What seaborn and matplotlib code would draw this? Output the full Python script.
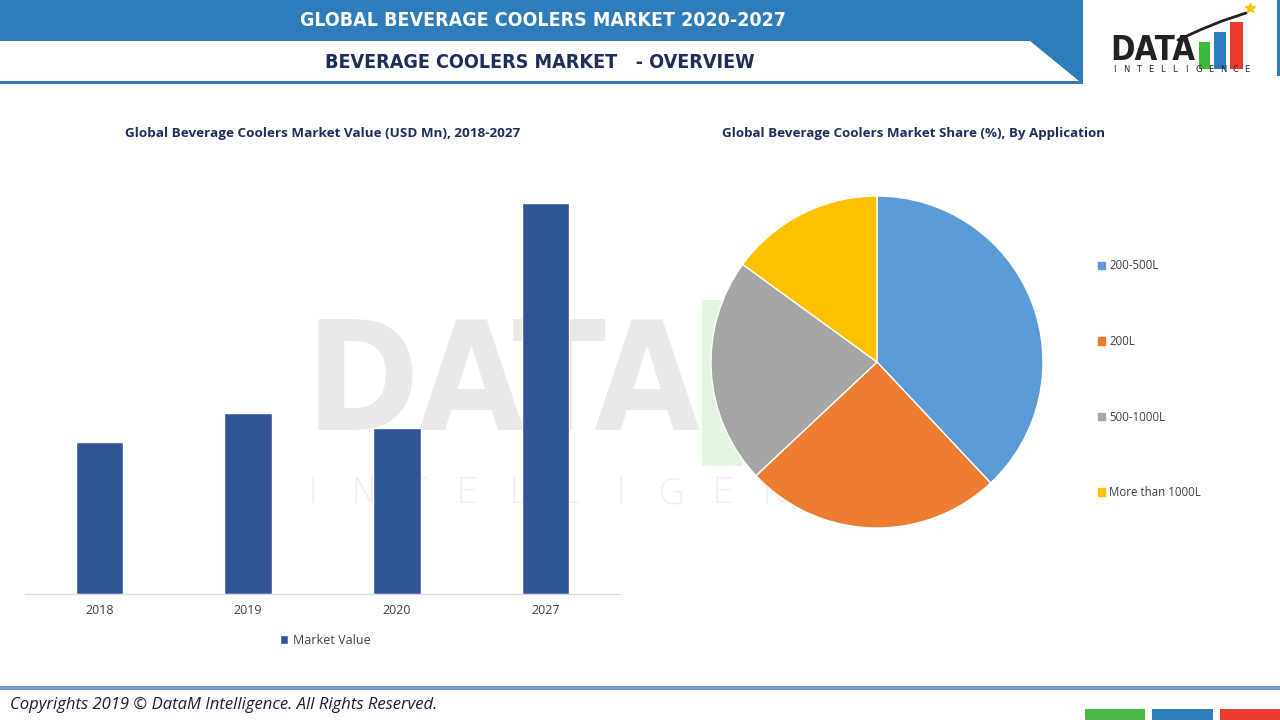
import matplotlib
matplotlib.use("Agg")
import matplotlib.pyplot as plt
import seaborn as sns
import pandas as pd
from matplotlib.patches import Rectangle, Polygon, Patch

# data
years = ["2018", "2019", "2020", "2027"]
market_value = [152, 181, 166, 391]

segments = ["200-500L", "200L", "500-1000L", "More than 1000L"]
share = [38, 25, 22, 15]
pie_colors = ["#5B9BD5", "#ED7D31", "#A5A5A5", "#FFC000"]

bar_color = "#2F5597"
header_blue = "#2E7CB9"
navy = "#1F2D5A"
body_font = ["Open Sans", "DejaVu Sans"]

sns.set_style("white")
plt.rcParams["font.family"] = ["DejaVu Sans"]

fig = plt.figure(figsize=(12.8, 7.2), dpi=100)
renderer = fig.canvas.get_renderer()


def fit_width(t, target_w):
    # shrink/grow a text so that it spans target_w pixels
    w = t.get_window_extent(renderer).width
    t.set_fontsize(t.get_fontsize() * target_w / w)


# background / decoration axes in pixel coords
bg = fig.add_axes([0, 0, 1, 1], zorder=-1)
bg.set_xlim(0, 1280)
bg.set_ylim(720, 0)
bg.axis("off")

bg.add_patch(Rectangle((0, 0), 1083, 84, color=header_blue, lw=0))
bg.add_patch(Polygon([(0, 41), (1030, 41), (1079, 81), (0, 81)], closed=True, color="white", lw=0))
bg.add_patch(Rectangle((1277, 0), 3, 76, color=header_blue, lw=0))
t = bg.text(543, 20, "GLOBAL BEVERAGE COOLERS MARKET 2020-2027", color="white", fontsize=15,
            fontweight="bold", fontstretch="condensed", ha="center", va="center")
fit_width(t, 486)
t = bg.text(540, 62, "BEVERAGE COOLERS MARKET   - OVERVIEW", color=navy, fontsize=15,
            fontweight="bold", fontstretch="condensed", ha="center", va="center")
fit_width(t, 431)

# logo
t = bg.text(1110, 50, "DATA", color="#222222", fontsize=30, fontweight="bold",
            fontstretch="condensed", ha="left", va="center")
fit_width(t, 85)
bg.add_patch(Rectangle((1199, 42), 11, 27, color="#3DB83A", lw=0))
bg.add_patch(Rectangle((1214, 32), 12, 37, color="#2A7DBF", lw=0))
bg.add_patch(Rectangle((1230, 22), 13, 47, color="#E8392B", lw=0))
bg.plot([1178, 1200, 1222, 1246], [40, 30, 21, 13], color="#222222", lw=2)
bg.plot([1250], [8], marker="*", color="#F2C500", markersize=7)
for i, ch in enumerate("INTELLIGENCE"):
    bg.text(1114 + i * 12.1, 69, ch, color="#222222", fontsize=6, ha="center", va="center")

# watermark
t = bg.text(305, 388, "DATA", color="#E9E9E9", fontsize=150, fontweight="bold",
            fontstretch="condensed", ha="left", va="center")
fit_width(t, 395)
bg.add_patch(Rectangle((702, 300), 40, 166, color="#E4F5E1", lw=0))
for i, ch in enumerate("INTELLIGENCE"):
    bg.text(313 + i * 51.3, 493, ch, color="#EEEEEE", fontsize=26, ha="center", va="center",
            fontweight="light")

# footer
bg.add_patch(Rectangle((0, 686), 1280, 4, color="#6C9BCB", lw=0))
bg.text(10, 705, "Copyrights 2019 \u00a9 DataM Intelligence. All Rights Reserved.", color="#1A1A3A",
        fontsize=12, style="italic", ha="left", va="center", family=body_font)
bg.add_patch(Rectangle((1085, 709), 60, 11, color="#4DB848", lw=0))
bg.add_patch(Rectangle((1152, 709), 61, 11, color="#2E7CB9", lw=0))
bg.add_patch(Rectangle((1220, 709), 60, 11, color="#EE3B33", lw=0))

# titles
bg.text(323, 133, "Global Beverage Coolers Market Value (USD Mn), 2018-2027", color=navy,
        fontsize=9.7, fontweight="bold", ha="center", va="center", family=body_font)
bg.text(913, 133, "Global Beverage Coolers Market Share (%), By Application", color=navy,
        fontsize=9.6, fontweight="bold", ha="center", va="center", family=body_font)

# bar chart
df = pd.DataFrame({"Year": years, "Market Value": market_value})
ax = fig.add_axes([25 / 1280, 1 - 594 / 720, 595 / 1280, 420 / 720])
ax.set_facecolor("none")
sns.barplot(data=df, x="Year", y="Market Value", color=bar_color, width=0.32,
            label="Market Value", ax=ax, saturation=1)
ax.set_xlim(-0.5, 3.5)
ax.set_ylim(0, 420)
ax.set_xlabel("")
ax.set_ylabel("")
ax.set_yticks([])
for s in ["top", "right", "left"]:
    ax.spines[s].set_visible(False)
ax.spines["bottom"].set_color("#D9D9D9")
ax.tick_params(axis="x", length=0, labelsize=9, colors="#404040", pad=7)
for t in ax.get_xticklabels():
    t.set_family(body_font)
ax.legend(loc="center", bbox_to_anchor=(0.505, -0.11), frameon=False, handlelength=0.7,
          handleheight=0.7, handletextpad=0.4, prop={"family": body_font, "size": 9})
for t in ax.get_legend().get_texts():
    t.set_color("#404040")

# pie chart
pax = fig.add_axes([(877 - 166) / 1280, 1 - (362 + 166) / 720, 332 / 1280, 332 / 720])
wedges, _ = pax.pie(share, colors=pie_colors, startangle=90, counterclock=False,
                    wedgeprops={"edgecolor": "white", "linewidth": 1})
pax.set_xlim(-1, 1)
pax.set_ylim(-1, 1)
handles = [Patch(color=c, label=l) for c, l in zip(pie_colors, segments)]
fig.legend(handles=handles, loc="upper left", bbox_to_anchor=(1088 / 1280, 1 - 249 / 720),
           frameon=False, handlelength=0.6, handleheight=0.6, handletextpad=0.35,
           labelspacing=5.43, prop={"family": body_font, "size": 8.3})
for t in fig.legends[0].get_texts():
    t.set_color("#404040")

fig.savefig("out.png", dpi=100)
